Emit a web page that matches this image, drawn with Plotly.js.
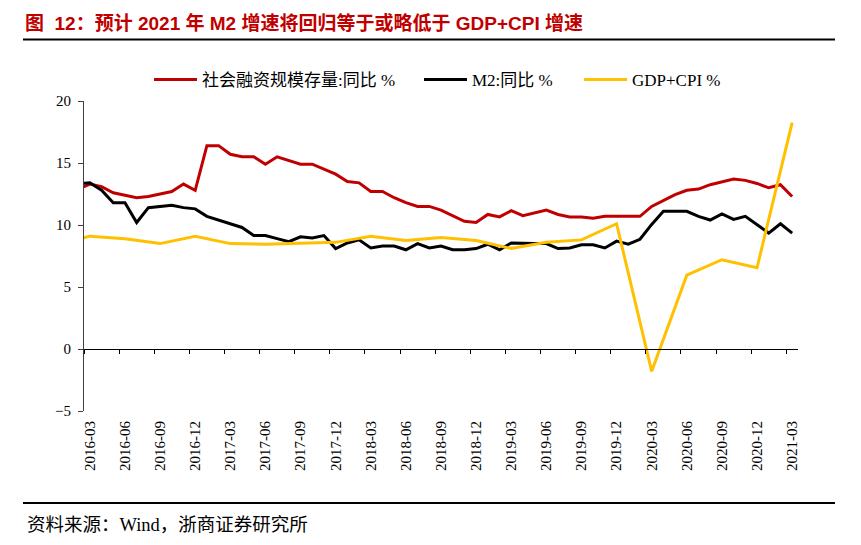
<!DOCTYPE html>
<html><head><meta charset="utf-8">
<script src="https://cdn.plot.ly/plotly-3.0.1.min.js"></script>
<style>html,body{margin:0;padding:0;background:#fff}#chart{width:861px;height:545px}</style>
</head><body><div id="chart"></div>
<script>
// Monthly categories (2016-02 is partly cut by the axis, as in the source chart)
const months = [
 '2016-02','2016-03','2016-04','2016-05','2016-06','2016-07','2016-08','2016-09','2016-10','2016-11','2016-12',
 '2017-01','2017-02','2017-03','2017-04','2017-05','2017-06','2017-07','2017-08','2017-09','2017-10','2017-11','2017-12',
 '2018-01','2018-02','2018-03','2018-04','2018-05','2018-06','2018-07','2018-08','2018-09','2018-10','2018-11','2018-12',
 '2019-01','2019-02','2019-03','2019-04','2019-05','2019-06','2019-07','2019-08','2019-09','2019-10','2019-11','2019-12',
 '2020-01','2020-02','2020-03','2020-04','2020-05','2020-06','2020-07','2020-08','2020-09','2020-10','2020-11','2020-12',
 '2021-01','2021-02','2021-03'
];
// 社会融资规模存量:同比 %
const tsf = [
 12.9, 13.3, 13.1, 12.6, 12.4, 12.2, 12.3, 12.5, 12.7, 13.3, 12.8,
 16.4, 16.4, 15.7, 15.5, 15.5, 14.9, 15.5, 15.2, 14.9, 14.9, 14.5, 14.1,
 13.5, 13.4, 12.7, 12.7, 12.2, 11.8, 11.5, 11.5, 11.2, 10.75, 10.3, 10.2,
 10.85, 10.65, 11.15, 10.75, 11.0, 11.2, 10.85, 10.65, 10.65, 10.55, 10.7, 10.7,
 10.7, 10.7, 11.5, 12.0, 12.45, 12.8, 12.9, 13.25, 13.5, 13.7, 13.6, 13.35,
 13.0, 13.25, 12.3
];
// M2:同比 %
const m2 = [
 13.35, 13.4, 12.8, 11.8, 11.8, 10.2, 11.4, 11.5, 11.6, 11.4, 11.3,
 10.7, 10.4, 10.05, 9.8, 9.15, 9.15, 8.9, 8.65, 9.05, 8.95, 9.15, 8.1,
 8.55, 8.8, 8.15, 8.3, 8.3, 8.0, 8.5, 8.15, 8.3, 8.0, 8.0, 8.1,
 8.45, 8.0, 8.55, 8.5, 8.5, 8.5, 8.1, 8.15, 8.4, 8.4, 8.15, 8.7,
 8.45, 8.85, 10.05, 11.1, 11.1, 11.1, 10.7, 10.4, 10.9, 10.45, 10.7, 10.05,
 9.35, 10.1, 9.35
];
// GDP+CPI % (quarterly)
const gdpQuarters = ['2015-12','2016-03','2016-06','2016-09','2016-12','2017-03','2017-06','2017-09','2017-12',
 '2018-03','2018-06','2018-09','2018-12','2019-03','2019-06','2019-09','2019-12','2020-03','2020-06','2020-09','2020-12','2021-03'];
const gdpcpi = [8.4, 9.1, 8.9, 8.5, 9.1, 8.5, 8.45, 8.5, 8.6, 9.1, 8.75, 9.0, 8.75, 8.1, 8.6, 8.8, 10.1, -1.8, 5.95, 7.2, 6.55, 18.25];

const tickLabels = months.filter(m => ['03','06','09','12'].includes(m.slice(5)));

const idx = s => (parseInt(s.slice(0,4),10) - 2016) * 12 + parseInt(s.slice(5,7),10) - 2;
const xM = months.map(idx);
const tickPos = tickLabels.map(idx);
const boundaryPos = tickPos.map(v => v - 0.5);
const xRange = [idx('2016-03') - 0.5, idx('2021-03') + 0.5];

const serif = 'Liberation Serif, Noto Sans CJK SC, serif';

const traces = [
  {type:'scatter', mode:'lines', name:'社会融资规模存量:同比 %', x:xM, y:tsf,
   line:{color:'#c00000', width:3}, legend:'legend', hoverinfo:'skip'},
  {type:'scatter', mode:'lines', name:'M2:同比 %', x:xM, y:m2,
   line:{color:'#000000', width:3}, legend:'legend2', hoverinfo:'skip'},
  {type:'scatter', mode:'lines', name:'GDP+CPI %', x:gdpQuarters.map(idx), y:gdpcpi, xaxis:'x2',
   line:{color:'#ffc000', width:3}, legend:'legend3', hoverinfo:'skip'}
];

const legendBase = {orientation:'h', y:1.0677, yanchor:'middle', xanchor:'left',
  font:{family:serif, size:17, color:'#000'}, bgcolor:'rgba(0,0,0,0)', itemwidth:43};

const layout = {
  width:861, height:545,
  margin:{l:84, r:63, t:101, b:134},
  paper_bgcolor:'#fff', plot_bgcolor:'#fff',
  font:{family:serif, size:15, color:'#000'},
  showlegend:true,
  title:{text:'图\u00a0\u00a012：预计 2021 年 M2 增速将回归等于或略低于 GDP+CPI 增速',
    font:{family:'Liberation Sans, Noto Sans CJK SC, sans-serif', size:19, color:'#c00000', weight:'bold'},
    x:25/861, xref:'container', xanchor:'left', y:1-23/545, yref:'container', yanchor:'middle'},
  xaxis:{type:'linear', range:xRange, tickmode:'array', tickvals:tickPos, ticktext:tickLabels,
    tickangle:-90, ticks:'', showline:false, showgrid:false, zeroline:false,
    ticklabelstandoff:6, tickfont:{family:serif, size:15, color:'#000'}, fixedrange:true},
  xaxis2:{type:'linear', overlaying:'x', anchor:'free', position:0.2, side:'bottom', range:xRange,
    tickmode:'array', tickvals:boundaryPos, ticks:'outside', ticklen:4, tickcolor:'#000', tickwidth:1,
    showticklabels:false, showline:true, linecolor:'#000', linewidth:1, showgrid:false, zeroline:false, fixedrange:true},
  yaxis:{range:[-5,20], tick0:0, dtick:5, ticks:'outside', ticklen:5, tickcolor:'#404040', tickwidth:1,
    showline:true, linecolor:'#404040', linewidth:1, showgrid:false, zeroline:false,
    ticklabelstandoff:4, tickfont:{family:serif, size:15, color:'#000'}, fixedrange:true},
  legend:Object.assign({}, legendBase, {x:(149-84)/714}),
  legend2:Object.assign({}, legendBase, {x:(419-84)/714}),
  legend3:Object.assign({}, legendBase, {x:(579-84)/714}),
  shapes:[
    {type:'line', xref:'paper', yref:'paper', x0:(23-84)/714, x1:(835-84)/714, y0:1+(101-39.5)/310, y1:1+(101-39.5)/310, line:{color:'#000', width:2}},
    {type:'line', xref:'paper', yref:'paper', x0:(23-84)/714, x1:(835-84)/714, y0:(411-503)/310, y1:(411-503)/310, line:{color:'#000', width:2}}
  ],
  annotations:[
    {text:'资料来源：Wind，浙商证券研究所', xref:'paper', yref:'paper', x:(25-84)/714, y:(411-525)/310,
     xanchor:'left', yanchor:'middle', showarrow:false, font:{family:serif, size:18.5, color:'#000'}}
  ]
};

Plotly.newPlot('chart', traces, layout, {displayModeBar:false, staticPlot:true});
</script>
</body></html>
